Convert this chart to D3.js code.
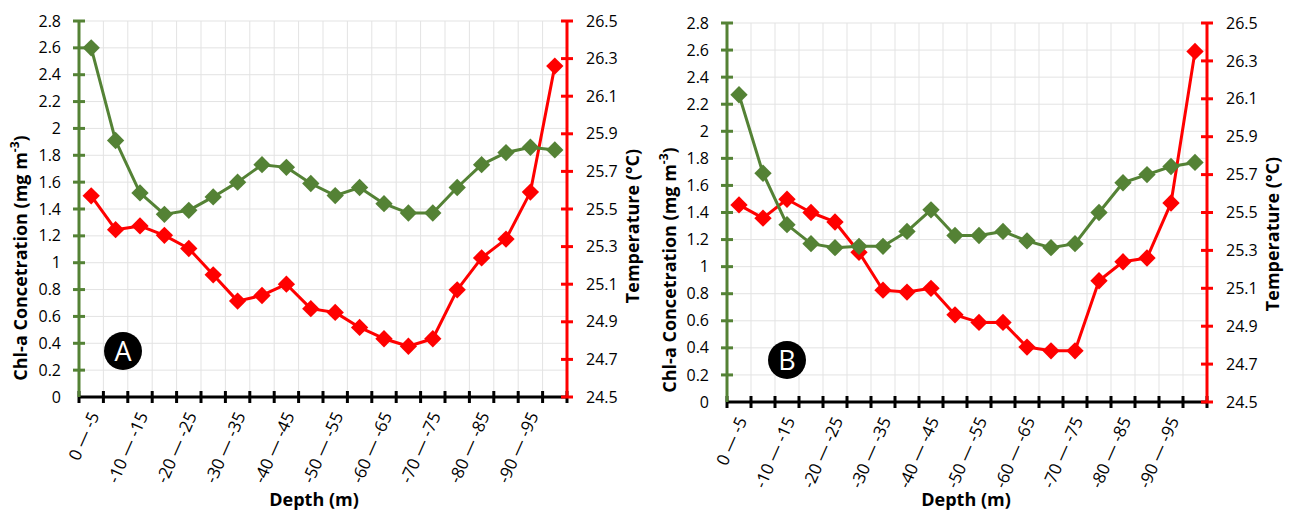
<!DOCTYPE html>
<html><head><meta charset="utf-8">
<script src="https://cdn.jsdelivr.net/npm/d3@7"></script>
<style>body{margin:0;background:#fff;}svg{display:block;}</style>
</head><body>
<svg id="chart" width="1291" height="511"></svg>
<script>
// ---- data ----
const depthCategories = ["0 — -5","-5 — -10","-10 — -15","-15 — -20","-20 — -25","-25 — -30","-30 — -35","-35 — -40","-40 — -45","-45 — -50","-50 — -55","-55 — -60","-60 — -65","-65 — -70","-70 — -75","-75 — -80","-80 — -85","-85 — -90","-90 — -95","-95 — -100"];
const chlA  = [2.60,1.91,1.52,1.36,1.39,1.49,1.60,1.73,1.71,1.59,1.50,1.56,1.44,1.37,1.37,1.56,1.73,1.82,1.86,1.84];
const tempA = [25.57,25.39,25.41,25.36,25.29,25.15,25.01,25.04,25.10,24.97,24.95,24.87,24.81,24.77,24.81,25.07,25.24,25.34,25.59,26.26];
const chlB  = [2.27,1.69,1.31,1.17,1.14,1.15,1.15,1.26,1.42,1.23,1.23,1.26,1.19,1.14,1.17,1.40,1.62,1.68,1.74,1.77];
const tempB = [25.54,25.47,25.57,25.50,25.45,25.29,25.09,25.08,25.10,24.96,24.92,24.92,24.79,24.77,24.77,25.14,25.24,25.26,25.55,26.35];
const chlTicks  = [0,0.2,0.4,0.6,0.8,1,1.2,1.4,1.6,1.8,2,2.2,2.4,2.6,2.8];
const tempTicks = [24.5,24.7,24.9,25.1,25.3,25.5,25.7,25.9,26.1,26.3,26.5];
const panelLabels = ["A","B"];
const xTitle = "Depth (m)";
const yLeftTitle = "Chl-a Concetration (mg m";
const yRightTitle = "Temperature (°C)";

const GREEN = "#548235", RED = "#FF0000";
const FONT = "'Open Sans', sans-serif";
const svg = d3.select("#chart");

function drawPanel(p) {
  const g = svg.append("g");
  const x = d3.scaleBand().domain(depthCategories).range([p.left, p.right]);
  const yL = d3.scaleLinear().domain([0, 2.8]).range([p.bottom, p.top]);
  const yR = d3.scaleLinear().domain([24.5, 26.5]).range([p.bottom, p.top]);
  const cx = d => x(d) + x.bandwidth() / 2;

  // gridlines
  g.append("g").selectAll("line").data(chlTicks).join("line")
    .attr("x1", p.left).attr("x2", p.right)
    .attr("y1", d => yL(d)).attr("y2", d => yL(d))
    .attr("stroke", "#e3e3e3").attr("stroke-width", 1);
  const bounds = depthCategories.map(d => x(d)).concat([p.right]);
  g.append("g").selectAll("line").data(bounds).join("line")
    .attr("x1", d => d).attr("x2", d => d)
    .attr("y1", p.top).attr("y2", p.bottom)
    .attr("stroke", "#e3e3e3").attr("stroke-width", 1);

  // x axis
  const xa = g.append("g").attr("transform", `translate(0,${p.bottom})`);
  xa.append("line").attr("x1", p.left).attr("x2", p.right).attr("stroke", "#000").attr("stroke-width", 3);
  xa.selectAll("line.t").data(bounds).join("line").attr("class", "t")
    .attr("x1", d => d).attr("x2", d => d).attr("y1", -6).attr("y2", 6)
    .attr("stroke", "#000").attr("stroke-width", 3);
  xa.selectAll("text").data(depthCategories.filter((d, i) => i % 2 === 0)).join("text")
    .attr("transform", d => `translate(${cx(d) + 3},${16}) rotate(-66)`)
    .attr("text-anchor", "end").attr("dy", "0.35em")
    .attr("font-family", FONT).attr("font-size", 17).attr("fill", "#000")
    .text(d => d);

  // left axis
  const la = g.append("g").attr("transform", `translate(${p.left},0)`);
  la.append("line").attr("y1", p.top).attr("y2", p.bottom).attr("stroke", GREEN).attr("stroke-width", 3);
  la.selectAll("line.t").data(chlTicks.filter(d => d > 0)).join("line").attr("class", "t")
    .attr("x1", -6).attr("x2", 6).attr("y1", d => yL(d)).attr("y2", d => yL(d))
    .attr("stroke", GREEN).attr("stroke-width", 3);
  la.selectAll("text").data(chlTicks).join("text")
    .attr("x", -18).attr("y", d => yL(d)).attr("dy", "0.35em").attr("text-anchor", "end")
    .attr("font-family", FONT).attr("font-size", 16).attr("fill", "#000")
    .text(d => String(d));

  // right axis
  const ra = g.append("g").attr("transform", `translate(${p.right},0)`);
  ra.append("line").attr("y1", p.top).attr("y2", p.bottom).attr("stroke", RED).attr("stroke-width", 3);
  ra.selectAll("line.t").data(tempTicks).join("line").attr("class", "t")
    .attr("x1", -6).attr("x2", 6).attr("y1", d => yR(d)).attr("y2", d => yR(d))
    .attr("stroke", RED).attr("stroke-width", 3);
  ra.selectAll("text").data(tempTicks).join("text")
    .attr("x", 19).attr("y", d => yR(d)).attr("dy", "0.35em").attr("text-anchor", "start")
    .attr("font-family", FONT).attr("font-size", 16).attr("fill", "#000")
    .text(d => d.toFixed(1));

  // series
  const diamond = d3.symbol().type(d3.symbolSquare).size(150);
  function series(vals, y, color) {
    const pts = depthCategories.map((c, i) => [cx(c), y(vals[i])]);
    g.append("path").attr("d", d3.line()(pts)).attr("fill", "none")
      .attr("stroke", color).attr("stroke-width", 3).attr("stroke-linejoin", "round");
    g.append("g").selectAll("path").data(pts).join("path")
      .attr("d", diamond).attr("transform", d => `translate(${d[0]},${d[1]}) rotate(45)`)
      .attr("fill", color);
  }
  series(p.temp, yR, RED);
  series(p.chl, yL, GREEN);

  // titles
  const lt = g.append("text").attr("transform", `translate(${p.ltX},${p.ltY}) rotate(-90)`)
    .attr("text-anchor", "middle").attr("dy", "0.35em")
    .attr("font-family", FONT).attr("font-size", 18).attr("font-weight", "bold").attr("fill", "#000");
  lt.append("tspan").text(yLeftTitle);
  lt.append("tspan").attr("baseline-shift", "super").attr("font-size", 12).text("-3");
  lt.append("tspan").text(")");

  g.append("text").attr("transform", `translate(${p.rtX},${p.rtY}) rotate(-90)`)
    .attr("text-anchor", "middle").attr("dy", "0.35em")
    .attr("font-family", FONT).attr("font-size", 18).attr("font-weight", "bold").attr("fill", "#000")
    .text(yRightTitle);

  g.append("text").attr("x", p.xtX).attr("y", 506)
    .attr("text-anchor", "middle")
    .attr("font-family", FONT).attr("font-size", 18).attr("font-weight", "bold").attr("fill", "#000")
    .text(xTitle);

  // panel label
  g.append("circle").attr("cx", p.cX).attr("cy", p.cY).attr("r", 19).attr("fill", "#000");
  g.append("text").attr("x", p.cX).attr("y", p.cY).attr("dy", "0.36em").attr("text-anchor", "middle")
    .attr("font-family", FONT).attr("font-size", 27).attr("fill", "#fff").text(p.label);
}

drawPanel({left: 79, right: 567, top: 21, bottom: 397, chl: chlA, temp: tempA,
  ltX: 21, ltY: 258, rtX: 633, rtY: 226, xtX: 314, cX: 123, cY: 351, label: panelLabels[0]});
drawPanel({left: 727, right: 1207, top: 23, bottom: 402, chl: chlB, temp: tempB,
  ltX: 670, ltY: 270, rtX: 1273, rtY: 234, xtX: 966, cX: 787, cY: 360, label: panelLabels[1]});
</script>
</body></html>
